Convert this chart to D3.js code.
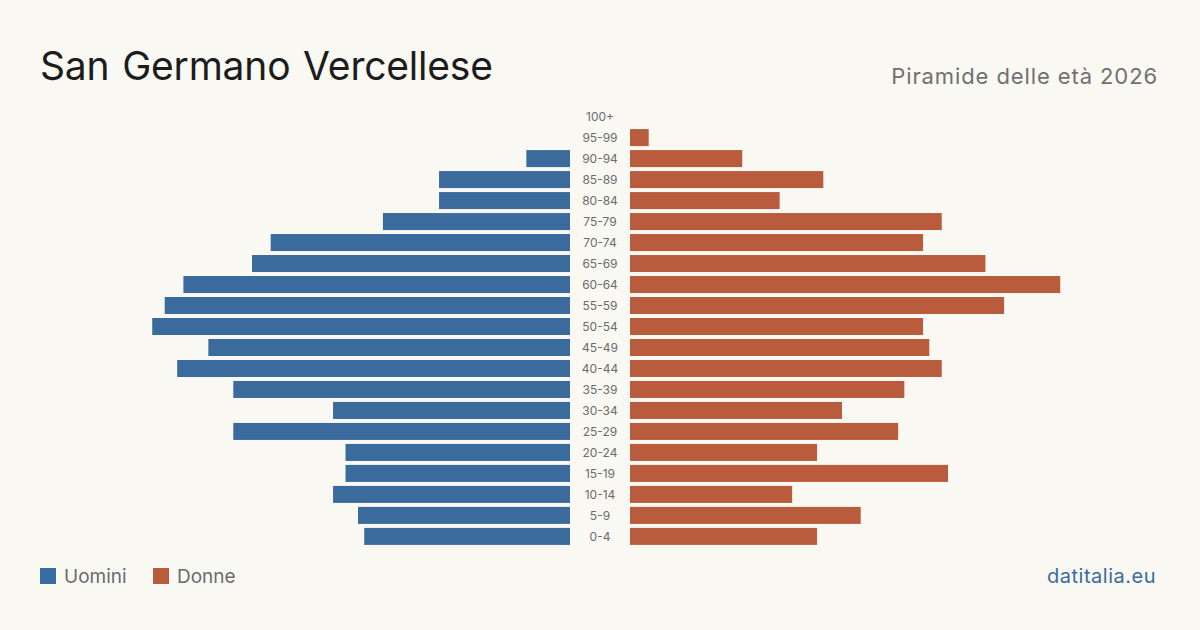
<!DOCTYPE html>
<html>
<head>
<meta charset="utf-8">
<script src="https://cdn.jsdelivr.net/npm/d3@7"></script>
<style>
  html, body { margin: 0; padding: 0; background: #f9f8f3; }
  svg { display: block; font-family: Inter, "Noto Sans", sans-serif; }
</style>
</head>
<body>
<div id="chart"></div>
<script>
// age classes, top to bottom
var ageGroups = ["100+", "95-99", "90-94", "85-89", "80-84", "75-79", "70-74", "65-69", "60-64", "55-59",
                 "50-54", "45-49", "40-44", "35-39", "30-34", "25-29", "20-24", "15-19", "10-14", "5-9", "0-4"];
var men   = [0, 0, 7, 21, 21, 30, 48, 51, 62, 65, 67, 58, 63, 54, 38, 54, 36, 36, 38, 34, 33];
var women = [0, 3, 18, 31, 24, 50, 47, 57, 69, 60, 47, 48, 50, 44, 34, 43, 30, 51, 26, 37, 30];
var seriesNames = ["Uomini", "Donne"];

var width = 1200, height = 630;
var blue = "#3b6b9c", orange = "#b95c3d";

var svg = d3.select("#chart").append("svg")
    .attr("width", width)
    .attr("height", height);

svg.append("rect").attr("width", width).attr("height", height).attr("fill", "#f9f8f3");

// title + subtitle
svg.append("text")
    .attr("x", 40).attr("y", 80)
    .attr("font-size", 39)
    .attr("letter-spacing", -0.2)
    .attr("word-spacing", 2)
    .attr("fill", "#1c1c1c")
    .text("San Germano Vercellese");

svg.append("text")
    .attr("x", 1158).attr("y", 84)
    .attr("text-anchor", "end")
    .attr("font-size", 22)
    .attr("letter-spacing", 0.9)
    .attr("fill", "#707070")
    .text("Piramide delle età 2026");

// scales
var y = d3.scaleBand()
    .domain(ageGroups)
    .range([106, 547])
    .paddingInner(0.19)
    .paddingOuter(0.1);

var xLeft = d3.scaleLinear().domain([0, 85]).range([570, 40]);
var xRight = d3.scaleLinear().domain([0, 85]).range([630, 1160]);

var data = ageGroups.map(function(g, i) { return {group: g, m: men[i], f: women[i]}; });

svg.append("g").selectAll("rect")
    .data(data)
    .enter().append("rect")
    .attr("x", function(d) { return xLeft(d.m); })
    .attr("y", function(d) { return y(d.group); })
    .attr("width", function(d) { return xLeft(0) - xLeft(d.m); })
    .attr("height", y.bandwidth())
    .attr("fill", blue);

svg.append("g").selectAll("rect")
    .data(data)
    .enter().append("rect")
    .attr("x", xRight(0))
    .attr("y", function(d) { return y(d.group); })
    .attr("width", function(d) { return xRight(d.f) - xRight(0); })
    .attr("height", y.bandwidth())
    .attr("fill", orange);

// age labels in the middle
svg.append("g").selectAll("text")
    .data(ageGroups)
    .enter().append("text")
    .attr("x", 600)
    .attr("y", function(d) { return y(d) + y.bandwidth() / 2; })
    .attr("dy", "0.35em")
    .attr("text-anchor", "middle")
    .attr("font-size", 12)
    .attr("fill", "#6b6b6b")
    .text(function(d) { return d; });

// legend
var legend = svg.append("g").selectAll("g")
    .data(seriesNames)
    .enter().append("g")
    .attr("transform", function(d, i) { return "translate(" + (40 + i * 113) + ",568)"; });

legend.append("rect")
    .attr("width", 16).attr("height", 16)
    .attr("fill", function(d, i) { return i === 0 ? blue : orange; });

legend.append("text")
    .attr("x", 24).attr("y", 8)
    .attr("dy", "0.35em")
    .attr("font-size", 19)
    .attr("fill", "#6b6b6b")
    .text(function(d) { return d; });

svg.append("text")
    .attr("x", 1156).attr("y", 583)
    .attr("text-anchor", "end")
    .attr("font-size", 20)
    .attr("letter-spacing", 0.5)
    .attr("fill", blue)
    .text("datitalia.eu");
</script>
</body>
</html>
